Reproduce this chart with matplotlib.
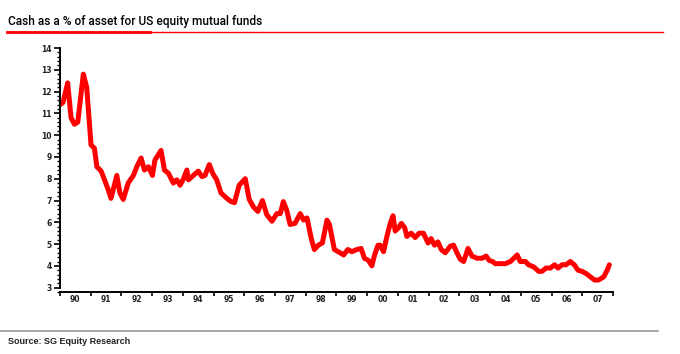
import matplotlib.pyplot as plt
from matplotlib.ticker import MultipleLocator, FixedLocator, NullFormatter
from matplotlib.lines import Line2D

# cash as % of assets (decimal year, value)
dates = [1990.00, 1990.10, 1990.25, 1990.36, 1990.47, 1990.58, 1990.76, 1990.87,
         1991.01, 1991.12, 1991.20, 1991.34, 1991.57, 1991.66, 1991.85, 1991.95,
         1992.06, 1992.22, 1992.39, 1992.50, 1992.64, 1992.75, 1992.88, 1993.01,
         1993.09, 1993.20, 1993.29, 1993.40, 1993.53, 1993.69, 1993.80, 1993.91,
         1994.02, 1994.13, 1994.18, 1994.34, 1994.50, 1994.62, 1994.72, 1994.86,
         1994.97, 1995.10, 1995.24, 1995.43, 1995.57, 1995.68, 1995.83, 1996.03,
         1996.16, 1996.30, 1996.44, 1996.59, 1996.73, 1996.90, 1997.06, 1997.17,
         1997.27, 1997.38, 1997.49, 1997.65, 1997.82, 1997.93, 1998.04, 1998.18,
         1998.28, 1998.41, 1998.54, 1998.69, 1998.77, 1998.93, 1999.12, 1999.23,
         1999.37, 1999.50, 1999.66, 1999.80, 1999.91, 2000.04, 2000.15, 2000.24,
         2000.35, 2000.42, 2000.53, 2000.64, 2000.75, 2000.84, 2000.91, 2001.02,
         2001.11, 2001.22, 2001.29, 2001.43, 2001.56, 2001.69, 2001.83, 2001.98,
         2002.08, 2002.19, 2002.30, 2002.41, 2002.54, 2002.70, 2002.81, 2002.92,
         2003.03, 2003.14, 2003.28, 2003.41, 2003.57, 2003.74, 2003.87, 2003.97,
         2004.08, 2004.17, 2004.33, 2004.50, 2004.66, 2004.77, 2004.88, 2004.98,
         2005.15, 2005.25, 2005.42, 2005.58, 2005.69, 2005.82, 2005.96, 2006.10,
         2006.21, 2006.34, 2006.47, 2006.61, 2006.74, 2006.86, 2006.99, 2007.12,
         2007.26, 2007.40, 2007.53, 2007.70, 2007.81, 2007.88]
cash_pct = [11.4, 11.5, 12.4, 10.8, 10.5, 10.6, 12.8, 12.2,
            9.55, 9.4, 8.55, 8.35, 7.5, 7.1, 8.15, 7.35,
            7.05, 7.8, 8.15, 8.55, 8.95, 8.4, 8.55, 8.15,
            8.85, 9.1, 9.3, 8.4, 8.25, 7.8, 7.95, 7.7,
            8.0, 8.4, 7.95, 8.15, 8.35, 8.1, 8.15, 8.65,
            8.25, 7.95, 7.35, 7.1, 6.95, 6.9, 7.7, 8.0,
            7.05, 6.7, 6.5, 7.0, 6.35, 6.05, 6.4, 6.4,
            6.95, 6.55, 5.9, 5.95, 6.4, 6.1, 6.2, 5.25,
            4.75, 4.95, 5.05, 6.1, 5.9, 4.75, 4.6, 4.5,
            4.75, 4.65, 4.75, 4.8, 4.35, 4.25, 4.0, 4.5,
            4.95, 4.95, 4.65, 5.35, 5.95, 6.3, 5.6, 5.75,
            5.95, 5.75, 5.35, 5.5, 5.3, 5.5, 5.5, 5.05,
            5.25, 4.95, 5.1, 4.75, 4.6, 4.9, 4.95, 4.6,
            4.3, 4.2, 4.8, 4.45, 4.35, 4.35, 4.45, 4.25,
            4.2, 4.1, 4.1, 4.1, 4.2, 4.35, 4.5, 4.2,
            4.2, 4.05, 3.95, 3.75, 3.75, 3.9, 3.9, 4.05,
            3.9, 4.05, 4.05, 4.2, 4.05, 3.8, 3.75, 3.65,
            3.5, 3.35, 3.35, 3.5, 3.8, 4.05]

years = list(range(1990, 2008))
year_labels = ["%02d" % (y % 100) for y in years]

plt.rcParams['font.family'] = ['Liberation Sans', 'DejaVu Sans']

fig = plt.figure(figsize=(6.8, 3.54), dpi=100)
ax = fig.add_axes([0.0882, 0.1751, 0.8133, 0.6893])

ax.plot(dates, cash_pct, color='#ff0000', lw=3.6, solid_joinstyle='round',
        solid_capstyle='round')

ax.set_xlim(1990, 2008)
ax.set_ylim(2.8, 14)

for s in ['top', 'right']:
    ax.spines[s].set_visible(False)
for s in ['left', 'bottom']:
    ax.spines[s].set_linewidth(1.4)
ax.spines['left'].set_bounds(3, 14)

ax.yaxis.set_minor_locator(MultipleLocator(0.2))
ax.set_yticks(range(3, 15))
ax.tick_params(axis='y', which='major', length=4, width=1.2, labelsize=6, pad=2)
ax.tick_params(axis='y', which='minor', length=2.5, width=1.0)

ax.xaxis.set_major_locator(FixedLocator(years + [2008]))
ax.xaxis.set_major_formatter(NullFormatter())
ax.xaxis.set_minor_locator(FixedLocator([y + 0.5 for y in years]))
ax.set_xticklabels(year_labels, minor=True)
ax.tick_params(axis='x', which='major', length=3, width=1.2, direction='out')
ax.tick_params(axis='x', which='minor', length=0, labelsize=6, pad=2)

tick_font = ['DejaVu Sans']
for lab in ax.get_yticklabels() + ax.get_xticklabels(minor=True):
    lab.set_family(tick_font)
    lab.set_fontweight('bold')
    lab.set_fontsize(5.5)
    lab.set_color('#222222')

# title with red rule
fig.text(8 / 680, 1 - 21 / 354, "Cash as a % of asset for US equity mutual funds",
         fontsize=8.6, va='center', ha='left', color='black',
         family=['Roboto', 'Liberation Sans'], fontweight='medium')
fig.add_artist(Line2D([7 / 680, 663 / 680], [1 - 32 / 354] * 2, color='#ff0000',
                      lw=1.0, transform=fig.transFigure))
fig.add_artist(Line2D([7 / 680, 150 / 680], [1 - 31.5 / 354] * 2, color='#ff0000',
                      lw=2.0, transform=fig.transFigure))

# source footer
fig.add_artist(Line2D([0, 658 / 680], [1 - 331 / 354] * 2, color='#999999',
                      lw=1.2, transform=fig.transFigure))
fig.text(8 / 680, 1 - 341 / 354, "Source: SG Equity Research", fontsize=6.5,
         fontweight='bold', va='center', ha='left', color='#222222')

fig.savefig('out.png', dpi=100)
